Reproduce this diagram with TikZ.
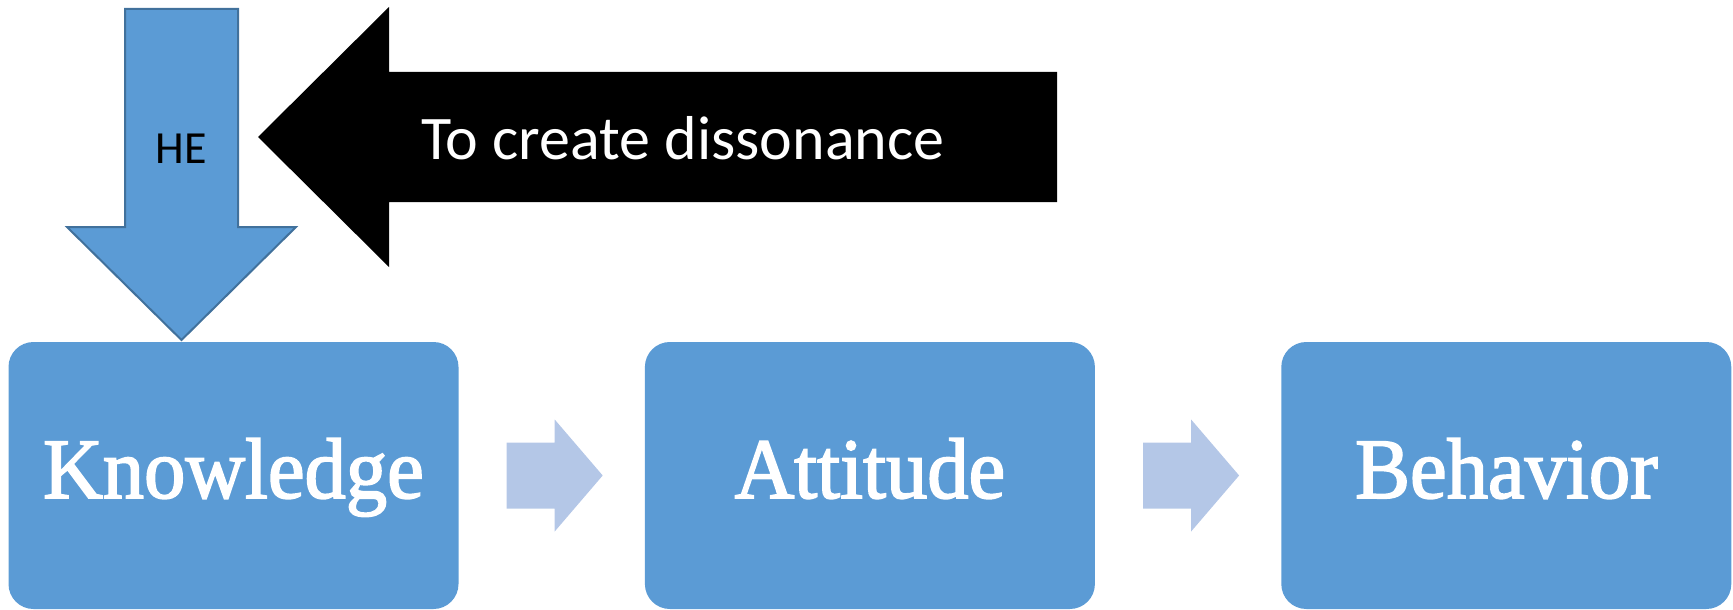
\documentclass[tikz,border=0pt]{standalone}
\usepackage{fontspec}
\setmainfont{Liberation Serif}
\newfontfamily\calibri{Carlito}
\newfontfamily\boxfont[FakeStretch=0.96,FakeBold=2]{Liberation Serif}
\usetikzlibrary{positioning,calc}

\definecolor{boxblue}{HTML}{5B9BD5}
\definecolor{edgeblue}{HTML}{41719C}
\definecolor{paleblue}{HTML}{B4C7E7}

\tikzset{
  stage/.style={fill=boxblue, rounded corners=25pt, minimum width=450pt, minimum height=267pt,
    inner sep=0pt, text=white, font=\boxfont\fontsize{86}{86}\selectfont,
    text height=60pt, text depth=15pt},
  flecheclaire/.style={fill=paleblue},
}

\begin{document}
\begin{tikzpicture}[x=1pt,y=-1pt]
\useasboundingbox (0,0) rectangle (1733,610);

%% les trois etapes
\node[stage] (know) at (233.5,475.5) {Knowledge};
\node[stage, right=186pt of know] (att) {Attitude};
\node[stage, right=186pt of att] (beh) {Behavior};

%% les fleches claires entre les etapes
\foreach \a in {know,att}
  \fill[flecheclaire] ($(\a.east)+(48,-33)$) -- ++(48,0) -- ++(0,-23) -- ++(48,56)
    -- ++(-48,56) -- ++(0,-23) -- ++(-48,0) -- cycle;

%% la fleche bleue vers le bas
\draw[fill=boxblue, draw=edgeblue, line width=2pt] (125,9) -- (238,9) -- (238,227) -- (296,227)
  -- (181.5,340) -- (67,227) -- (125,227) -- cycle;
\node[font=\calibri\fontsize{46}{46}\selectfont, anchor=base, inner sep=0pt] (he) at (181.5,163) {HE};

%% la grosse fleche noire
\fill[black] (258,137) -- (389,7) -- (389,72) -- (1057,72) -- (1057,202) -- (389,202) -- (389,267) -- cycle;
\node[text=white, font=\calibri\fontsize{62}{62}\selectfont, anchor=base west, inner sep=0pt]
  (dissonance) at (421,159) {To create dissonance};

\end{tikzpicture}
\end{document}
